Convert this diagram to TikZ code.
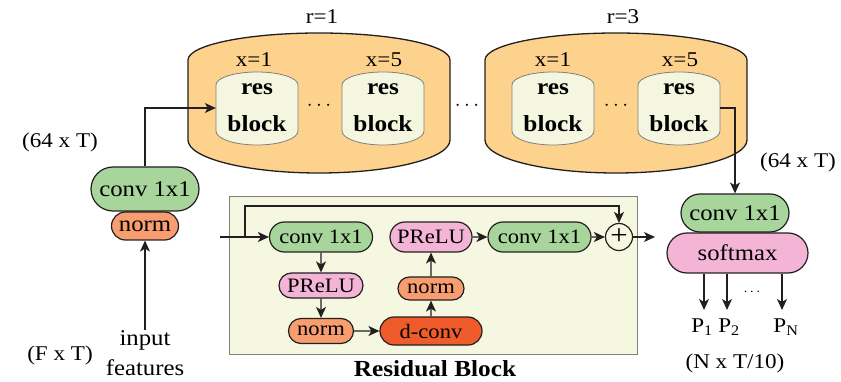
\documentclass[tikz,border=0pt]{standalone}
\usepackage{fontspec}
\setmainfont{Liberation Serif}[FakeStretch=1.1]
\usetikzlibrary{arrows.meta,shapes.misc}

\definecolor{drumorange}{HTML}{FDD28C}
\definecolor{drumfill}{HTML}{F4F6DF}
\definecolor{convgreen}{HTML}{A8D59B}
\definecolor{prelupink}{HTML}{F3B4D6}
\definecolor{normorange}{HTML}{F89D70}
\definecolor{dconvred}{HTML}{EF5B2A}
\definecolor{boxfill}{HTML}{F5F7E1}
\definecolor{ink}{HTML}{231F20}

\def\outerdrum#1{\draw[outerdrum] (#1,60) arc[start angle=180,end angle=360,x radius=131,y radius=27]
  -- ++(0,80) arc[start angle=0,end angle=180,x radius=131,y radius=33] -- cycle;}
\def\innerdrum#1{\draw[innerdrum] (#1,85) arc[start angle=180,end angle=360,x radius=41,y radius=13]
  -- ++(0,46) arc[start angle=0,end angle=180,x radius=41,y radius=14] -- cycle;}

\begin{document}
\begin{tikzpicture}[x=1pt,y=-1pt,
    arr/.style={draw=ink, line width=1.2pt, -{Stealth[length=11pt,width=10pt,inset=3pt]}},
    blk/.style={rounded rectangle, draw=ink, line width=1.2pt, inner sep=0pt,
      font=\fontsize{22.5}{24}\selectfont},
    sblk/.style={blk, font=\fontsize{20.5}{22}\selectfont},
    conv/.style={fill=convgreen},
    prelu/.style={fill=prelupink},
    nrm/.style={fill=normorange},
    lbl/.style={inner sep=0pt, font=\fontsize{21}{24}\selectfont},
    outerdrum/.style={draw=ink, line width=1.3pt, fill=drumorange},
    innerdrum/.style={draw=gray, line width=0.8pt, fill=drumfill},
    resblk/.style={align=center, inner sep=0pt, minimum width=82pt, minimum height=73pt,
      font=\fontsize{23}{37}\selectfont\bfseries}
  ]
    \useasboundingbox (0,0) rectangle (841,382);

    % repeat stacks
    \outerdrum{188}
    \outerdrum{485}
    \innerdrum{216}
    \innerdrum{342}
    \innerdrum{512}
    \innerdrum{638}

    \node[lbl] (r1) at (322,17) {r=1};
    \node[lbl] (r3) at (623,17) {r=3};
    \node[lbl] (x11) at (254,60) {x=1};
    \node[lbl] (x15) at (384,60) {x=5};
    \node[lbl] (x31) at (553,60) {x=1};
    \node[lbl] (x35) at (680,60) {x=5};

    \node[resblk] (rb1) at (257,108) {res\\block};
    \node[resblk] (rb2) at (383,108) {res\\block};
    \node[resblk] (rb3) at (553,108) {res\\block};
    \node[resblk] (rb4) at (679,108) {res\\block};

    \node[lbl] (dots1) at (319,106) {$\cdots$};
    \node[lbl] (dots2) at (467,106) {$\cdots$};
    \node[lbl] (dots3) at (616,106) {$\cdots$};

    % input side
    \node[blk,nrm,minimum width=67pt,minimum height=28pt] (lnorm) at (145,226) {norm};
    \node[blk,conv,minimum width=108pt,minimum height=44pt] (lconv) at (145,189) {conv 1x1};
    \node[lbl,align=center,font=\fontsize{22.5}{30}\selectfont] (feat) at (145,353) {input\\features};
    \node[lbl] (dimin) at (60,142) {(64 x T)};
    \node[lbl] (dimf) at (60,355) {(F x T)};

    \draw[arr] (feat) -- (lnorm);
    \draw[arr] (lconv.north) |- (rb1.west);

    % residual block
    \node[draw=gray, line width=1pt, fill=boxfill, minimum width=408pt, minimum height=157pt,
      inner sep=0pt] (rbox) at (433,275.5) {};
    \node[font=\fontsize{23}{26}\selectfont\bfseries, inner sep=0pt] (rtitle) at (435,369) {Residual Block};

    \node[sblk,conv,minimum width=103pt,minimum height=30pt] (rc1) at (321,237) {conv 1x1};
    \node[sblk,prelu,minimum width=84pt,minimum height=25pt] (rp1) at (321,285.5) {PReLU};
    \node[sblk,nrm,minimum width=65pt,minimum height=25pt] (rn1) at (321,331) {norm};
    \node[sblk,fill=dconvred,minimum width=102pt,minimum height=28pt] (rd) at (431,331) {d-conv};
    \node[sblk,nrm,minimum width=66pt,minimum height=23pt] (rn2) at (431,288.5) {norm};
    \node[sblk,prelu,minimum width=82pt,minimum height=30pt] (rp2) at (431,237) {PReLU};
    \node[sblk,conv,minimum width=103pt,minimum height=30pt] (rc2) at (539.5,237) {conv 1x1};
    \node[circle, draw=ink, line width=1.2pt, minimum size=27pt, inner sep=0pt,
      font=\fontsize{28}{28}\selectfont] (plus) at (619,237) {+};

    \coordinate (rin) at (220,237);
    \coordinate (skip) at (245,237);
    \coordinate (skiptop) at (245,206);
    \coordinate (rout) at (655,237);

    \draw[arr] (rin) -- (rc1);
    \draw[arr] (skip) -- (skiptop) -| (plus.north);
    \draw[arr] (rc1) -- (rp1);
    \draw[arr] (rp1) -- (rn1);
    \draw[arr] (rn1) -- (rd);
    \draw[arr] (rd) -- (rn2);
    \draw[arr] (rn2) -- (rp2);
    \draw[arr] (rp2) -- (rc2);
    \draw[arr] (rc2) -- (plus);
    \draw[arr] (plus) -- (rout);

    % output side
    \node[blk,prelu,minimum width=141pt,minimum height=40pt] (smax) at (737.5,253) {softmax};
    \node[blk,conv,minimum width=108pt,minimum height=38pt] (rconv) at (735,213) {conv 1x1};
    \node[lbl] (dimout) at (798,162) {(64 x T)};
    \node[lbl] (dimp) at (735,363) {(N x T/10)};

    \draw[arr] (rb4.east) -| (rconv.north);

    \coordinate (t1) at (704,310);
    \coordinate (t2) at (727,310);
    \coordinate (tn) at (782,310);
    \draw[arr] (smax.south -| t1) -- (t1);
    \draw[arr] (smax.south -| t2) -- (t2);
    \draw[arr] (smax.south -| tn) -- (tn);

    \node[lbl] (p1) at (702,327) {P\textsubscript{1}};
    \node[lbl] (p2) at (729,327) {P\textsubscript{2}};
    \node[lbl] (pn) at (786,327) {P\textsubscript{N}};
    \node[lbl,font=\fontsize{14}{14}\selectfont] (pdots) at (752,292) {$\cdots$};
  \end{tikzpicture}
\end{document}
